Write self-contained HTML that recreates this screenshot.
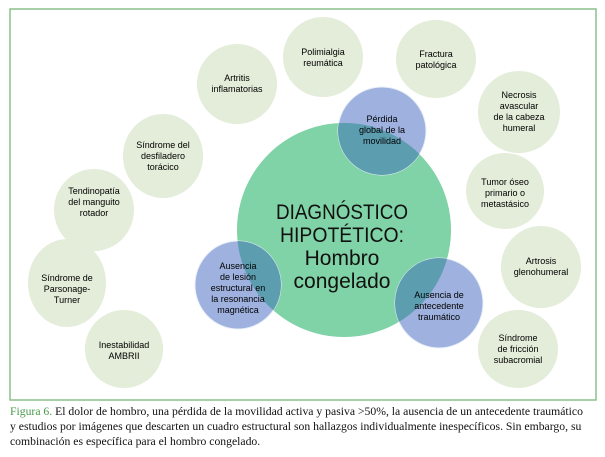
<!DOCTYPE html>
<html><head><meta charset="utf-8"><style>
body{margin:0;background:#fff;width:605px;height:457px;overflow:hidden}
svg{position:absolute;left:0;top:0}
.t{font-family:"Liberation Sans",Arial,sans-serif;font-size:9px;fill:#000;text-anchor:middle}
.b{font-family:"Liberation Sans",Arial,sans-serif;font-size:21px;fill:#111;text-anchor:middle}
#cap{position:absolute;left:10px;top:404px;width:595px;font-family:"Liberation Serif","Times New Roman",serif;font-size:11.7px;line-height:15px;color:#111;white-space:nowrap}
#cap span{color:#4a9a4a}
</style></head><body>
<svg width="605" height="457" viewBox="0 0 605 457">
<defs>
<clipPath id="c1"><ellipse cx="382" cy="131" rx="44" ry="44"/></clipPath>
<clipPath id="c2"><ellipse cx="238" cy="285" rx="43" ry="44"/></clipPath>
<clipPath id="c3"><ellipse cx="439" cy="303" rx="44" ry="45"/></clipPath>
</defs>
<rect x="10" y="9" width="586" height="391" fill="none" stroke="#8cc08c" stroke-width="1.5"/>
<g fill="#e3edd9">
<ellipse cx="323" cy="57" rx="40" ry="40"/>
<ellipse cx="436" cy="59" rx="40" ry="39"/>
<ellipse cx="237" cy="84" rx="40" ry="40"/>
<ellipse cx="519" cy="112" rx="41" ry="41"/>
<ellipse cx="163" cy="156" rx="40" ry="42"/>
<ellipse cx="94" cy="210" rx="40" ry="41"/>
<ellipse cx="505" cy="191" rx="39" ry="38"/>
<ellipse cx="541" cy="267" rx="40" ry="41"/>
<ellipse cx="67" cy="283" rx="39" ry="44"/>
<ellipse cx="124" cy="349" rx="39" ry="39"/>
<ellipse cx="518" cy="349" rx="40" ry="39"/>
</g>
<ellipse cx="344" cy="230" rx="107" ry="107" fill="#80d3a6"/>
<g fill="#9eb1df" stroke="#e8eef8" stroke-width="1">
<ellipse cx="382" cy="131" rx="44" ry="44"/>
<ellipse cx="238" cy="285" rx="43" ry="44"/>
<ellipse cx="439" cy="303" rx="44" ry="45"/>
</g>
<g fill="#5c9db0">
<ellipse cx="344" cy="230" rx="107" ry="107" clip-path="url(#c1)"/>
<ellipse cx="344" cy="230" rx="107" ry="107" clip-path="url(#c2)"/>
<ellipse cx="344" cy="230" rx="107" ry="107" clip-path="url(#c3)"/>
</g>
<text class="b" x="342" y="219" textLength="132" lengthAdjust="spacingAndGlyphs">DIAGNÓSTICO</text>
<text class="b" x="342" y="242" textLength="124" lengthAdjust="spacingAndGlyphs">HIPOTÉTICO:</text>
<text class="b" x="342" y="265">Hombro</text>
<text class="b" x="342" y="288">congelado</text>
<g class="t">
<text class="t" x="323" y="55">Polimialgia</text><text class="t" x="323" y="66">reumática</text>
<text class="t" x="436" y="57">Fractura</text><text class="t" x="436" y="68">patológica</text>
<text class="t" x="237" y="81">Artritis</text><text class="t" x="237" y="92">inflamatorias</text>
<text class="t" x="519" y="98">Necrosis</text><text class="t" x="519" y="109">avascular</text><text class="t" x="519" y="120">de la cabeza</text><text class="t" x="519" y="131">humeral</text>
<text class="t" x="163" y="148">Síndrome del</text><text class="t" x="163" y="159">desfiladero</text><text class="t" x="163" y="170">torácico</text>
<text class="t" x="94" y="194">Tendinopatía</text><text class="t" x="94" y="205">del manguito</text><text class="t" x="94" y="216">rotador</text>
<text class="t" x="505" y="185">Tumor óseo</text><text class="t" x="505" y="196">primario o</text><text class="t" x="505" y="207">metastásico</text>
<text class="t" x="541" y="264">Artrosis</text><text class="t" x="541" y="275">glenohumeral</text>
<text class="t" x="67" y="281">Síndrome de</text><text class="t" x="67" y="292">Parsonage-</text><text class="t" x="67" y="303">Turner</text>
<text class="t" x="124" y="348">Inestabilidad</text><text class="t" x="124" y="359">AMBRII</text>
<text class="t" x="518" y="341">Síndrome</text><text class="t" x="518" y="352">de fricción</text><text class="t" x="518" y="363">subacromial</text>
<text class="t" x="382" y="122">Pérdida</text><text class="t" x="382" y="133">global de la</text><text class="t" x="382" y="144">movilidad</text>
<text class="t" x="238" y="269">Ausencia</text><text class="t" x="238" y="280">de lesión</text><text class="t" x="238" y="291">estructural en</text><text class="t" x="238" y="302">la resonancia</text><text class="t" x="238" y="313">magnética</text>
<text class="t" x="439" y="298">Ausencia de</text><text class="t" x="439" y="309">antecedente</text><text class="t" x="439" y="320">traumático</text>
</g>
</svg>
<div id="cap"><span>Figura 6.</span> El dolor de hombro, una pérdida de la movilidad activa y pasiva &gt;50%, la ausencia de un antecedente traumático<br>y estudios por imágenes que descarten un cuadro estructural son hallazgos individualmente inespecíficos. Sin embargo, su<br>combinación es específica para el hombro congelado.</div>
</body></html>
